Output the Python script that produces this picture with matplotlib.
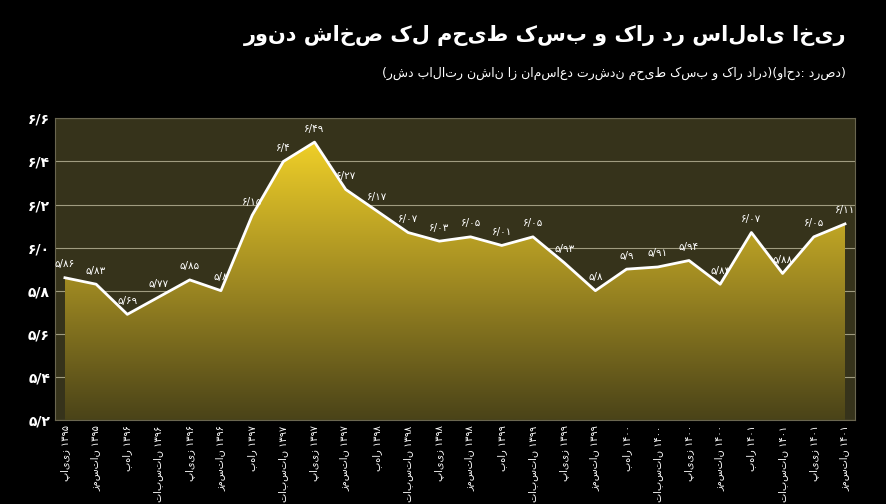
import numpy as np
import matplotlib
matplotlib.use("Agg")
import matplotlib.pyplot as plt
from matplotlib.colors import LinearSegmentedColormap

plt.rcParams["font.family"] = ["DejaVu Sans"]

# ── Data ──────────────────────────────────────────────────────────────────────
quarters = ["پاییز ۱۳۹۵", "زمستان ۱۳۹۵",
            "بهار ۱۳۹۶", "تابستان ۱۳۹۶", "پاییز ۱۳۹۶", "زمستان ۱۳۹۶",
            "بهار ۱۳۹۷", "تابستان ۱۳۹۷", "پاییز ۱۳۹۷", "زمستان ۱۳۹۷",
            "بهار ۱۳۹۸", "تابستان ۱۳۹۸", "پاییز ۱۳۹۸", "زمستان ۱۳۹۸",
            "بهار ۱۳۹۹", "تابستان ۱۳۹۹", "پاییز ۱۳۹۹", "زمستان ۱۳۹۹",
            "بهار ۱۴۰۰", "تابستان ۱۴۰۰", "پاییز ۱۴۰۰", "زمستان ۱۴۰۰",
            "بهار ۱۴۰۱", "تابستان ۱۴۰۱", "پاییز ۱۴۰۱", "زمستان ۱۴۰۱"]
values = [5.86, 5.83, 5.69, 5.77, 5.85, 5.80, 6.15, 6.40, 6.49, 6.27,
          6.17, 6.07, 6.03, 6.05, 6.01, 6.05, 5.93, 5.80, 5.90, 5.91,
          5.94, 5.83, 6.07, 5.88, 6.05, 6.11]
yticks = [5.2, 5.4, 5.6, 5.8, 6.0, 6.2, 6.4, 6.6]

title = "روند شاخص کل محیط کسب و کار در سال‌های اخیر"
subtitle = "(رشد بالاتر نشان از نامساعد ترشدن محیط کسب و کار دارد)(واحد: درصد)"

FA = str.maketrans("0123456789.", "۰۱۲۳۴۵۶۷۸۹/")


def fa_num(v, fmt):
    return (fmt % v).translate(FA)


# ── Figure ────────────────────────────────────────────────────────────────────
fig = plt.figure(figsize=(8.86, 5.04), dpi=100, facecolor="black")
ax = fig.add_axes([0.062, 0.167, 0.903, 0.598])
ax.set_facecolor("#36331b")

x = np.arange(len(values))
ax.set_xlim(-0.32, len(values) - 1 + 0.32)
ax.set_ylim(5.2, 6.6)

# gradient fill under the line
cmap = LinearSegmentedColormap.from_list("gold", ["#4a4318", "#a08a22", "#f0d028"])
grad = np.linspace(0, 1, 256).reshape(-1, 1)
poly = ax.fill_between(x, values, 5.2, color="none")
img = ax.imshow(grad, cmap=cmap, aspect="auto", origin="lower",
                extent=[x[0], x[-1], 5.2, 6.5], zorder=2)
img.set_clip_path(poly.get_paths()[0], transform=ax.transData)
ax.plot(x, values, color="white", linewidth=2, zorder=4)

for yv in yticks:
    ax.axhline(yv, color="#a09c80", linewidth=0.8, zorder=1)

for xi, v in zip(x, values):
    ax.text(xi, v + 0.04, fa_num(v, "%g"), color="white", fontsize=7.5,
            ha="center", va="bottom", zorder=5)

ax.set_yticks(yticks)
ax.set_yticklabels([fa_num(t, "%.1f") for t in yticks], color="white",
                   fontsize=10, fontweight="bold")
ax.set_xticks(x)
ax.set_xticklabels(quarters, rotation=90, color="white", fontsize=7)
ax.tick_params(length=0, axis="x", pad=4)
ax.tick_params(length=0, axis="y")
for s in ax.spines.values():
    s.set_color("#6a6650")

fig.text(0.955, 0.93, title, color="white", fontsize=15, fontweight="bold",
         ha="right", va="center")
fig.text(0.955, 0.855, subtitle, color="white", fontsize=9, ha="right", va="center")

fig.savefig("out.png", dpi=100, facecolor="black")
